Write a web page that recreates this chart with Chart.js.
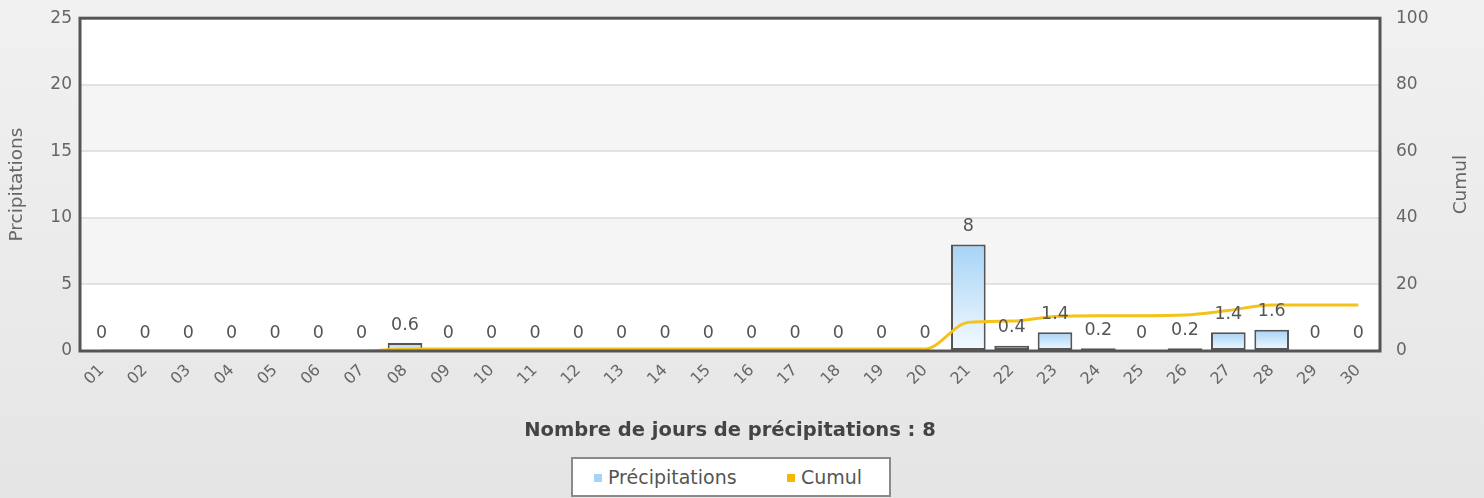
<!DOCTYPE html>
<html><head><meta charset="utf-8">
<script src="https://cdn.jsdelivr.net/npm/chart.js@4/dist/chart.umd.min.js"></script>
<style>
html,body{margin:0;padding:0;}
body{width:1484px;height:498px;background:linear-gradient(#f1f1f1,#e5e5e5);position:relative;overflow:hidden;font-family:"DejaVu Sans",Verdana,sans-serif;}
#wrap{position:absolute;left:0;top:0;width:1484px;height:498px;}
#sub{position:absolute;left:0;top:418px;width:1460px;text-align:center;font-weight:bold;font-size:19.5px;color:#444;}
#legend{position:absolute;left:571px;top:457px;width:316px;height:36px;background:#fff;border:2px solid #8a8a8a;box-sizing:content-box;font-size:19px;color:#555;}
.item{position:absolute;top:7px;white-space:nowrap;line-height:22px;}
.sw{display:inline-block;width:8px;height:8px;margin-right:6px;vertical-align:middle;position:relative;top:-1px;}
</style>
</head><body>
<div id="wrap"><canvas id="c" width="1484" height="498"></canvas></div>
<div id="sub"></div>
<div id="legend"></div>
<script>
const categories = ['01','02','03','04','05','06','07','08','09','10','11','12','13','14','15','16','17','18','19','20','21','22','23','24','25','26','27','28','29','30'];
const precipitations = [0,0,0,0,0,0,0,0.6,0,0,0,0,0,0,0,0,0,0,0,0,8,0.4,1.4,0.2,0,0.2,1.4,1.6,0,0];
const cumul = [0,0,0,0,0,0,0,0.6,0.6,0.6,0.6,0.6,0.6,0.6,0.6,0.6,0.6,0.6,0.6,0.6,8.6,9.0,10.4,10.6,10.6,10.8,12.2,13.8,13.8,13.8];
const leftTicks = [0,5,10,15,20,25];
const rightTicks = [0,20,40,60,80,100];
const seriesNames = ['Précipitations','Cumul'];
const leftTitle = 'Prcipitations';
const rightTitle = 'Cumul';
const subtitle = 'Nombre de jours de précipitations : 8';

const FONT = '"DejaVu Sans", Verdana, sans-serif';
const BAR_TOP = '#a6d3f6';
const LINE_COLOR = '#f6c21a';

document.getElementById('sub').textContent = subtitle;
const leg = document.getElementById('legend');
leg.innerHTML = '<div class="item" style="left:21px"><span class="sw" style="background:'+BAR_TOP+'"></span>'+seriesNames[0]+'</div>'+
                '<div class="item" style="left:214px"><span class="sw" style="background:#f5b800"></span>'+seriesNames[1]+'</div>';

const bgPlugin = {
  id:'bg',
  beforeDraw(chart){
    const {ctx, chartArea:a, scales:{y}} = chart;
    ctx.save();
    ctx.fillStyle='#fff';
    ctx.fillRect(a.left,a.top,a.right-a.left,a.bottom-a.top);
    ctx.fillStyle='#f5f5f5';
    for (let i=0;i<leftTicks.length-1;i++){
      if (i%2===1){
        const y0=y.getPixelForValue(leftTicks[i]), y1=y.getPixelForValue(leftTicks[i+1]);
        ctx.fillRect(a.left,y1,a.right-a.left,y0-y1);
      }
    }
    ctx.restore();
  },
  afterDatasetsDraw(chart){
    const {ctx, chartArea:a} = chart;
    ctx.save();
    ctx.strokeStyle='#555';
    ctx.lineWidth=3;
    ctx.strokeRect(a.left,a.top,a.right-a.left,a.bottom-a.top);
    const meta = chart.getDatasetMeta(0);
    ctx.font='17.5px '+FONT;
    ctx.fillStyle='#555';
    ctx.textAlign='center';
    ctx.textBaseline='middle';
    meta.data.forEach((bar,i)=>{
      ctx.fillText(String(precipitations[i]), bar.x, bar.y-18);
    });
    ctx.font='18.5px '+FONT;
    ctx.fillStyle='#666';
    const cy=(a.top+a.bottom)/2;
    ctx.save(); ctx.translate(17,cy); ctx.rotate(-Math.PI/2); ctx.fillText(leftTitle,0,0); ctx.restore();
    ctx.save(); ctx.translate(1461,cy); ctx.rotate(-Math.PI/2); ctx.fillText(rightTitle,0,0); ctx.restore();
    ctx.restore();
  }
};

new Chart(document.getElementById('c'), {
  data:{
    labels:categories,
    datasets:[
      {type:'bar', label:seriesNames[0], data:precipitations, yAxisID:'y', order:1,
       backgroundColor(ctx){
         const chart=ctx.chart; const a=chart.chartArea; if(!a) return BAR_TOP;
         const v=ctx.raw||0; const ys=chart.scales.y;
         const top=ys.getPixelForValue(v), bot=ys.getPixelForValue(0);
         const g=chart.ctx.createLinearGradient(0,top,0,Math.max(bot,top+1));
         g.addColorStop(0,BAR_TOP); g.addColorStop(1,'#f4faff');
         return g;
       },
       borderColor:'#555', borderWidth:2, borderSkipped:false,
       barPercentage:0.8, categoryPercentage:1.0},
      {type:'line', label:seriesNames[1], data:cumul, yAxisID:'y1', order:0,
       borderColor:LINE_COLOR, borderWidth:3, pointRadius:0, cubicInterpolationMode:'monotone', fill:false}
    ]
  },
  options:{
    responsive:false, animation:false,
    layout:{padding:{top:15,left:0,right:0,bottom:0}},
    plugins:{legend:{display:false}, tooltip:{enabled:false}},
    scales:{
      x:{grid:{display:false}, border:{display:false},
         ticks:{color:'#666', font:{family:FONT,size:16}, minRotation:45, maxRotation:45, autoSkip:false, padding:2},
         afterFit(s){s.height=147;}},
      y:{position:'left', min:0, max:25, grid:{color:'#e2e2e2', lineWidth:2, drawTicks:false}, border:{display:false},
         ticks:{stepSize:5, color:'#666', font:{family:FONT,size:17}, padding:8},
         afterFit(s){s.width=80;}},
      y1:{position:'right', min:0, max:100, grid:{display:false}, border:{display:false},
         ticks:{stepSize:20, color:'#666', font:{family:FONT,size:17}, padding:8},
         afterFit(s){s.width=104;}}
    }
  },
  plugins:[bgPlugin]
});
</script>
</body></html>
